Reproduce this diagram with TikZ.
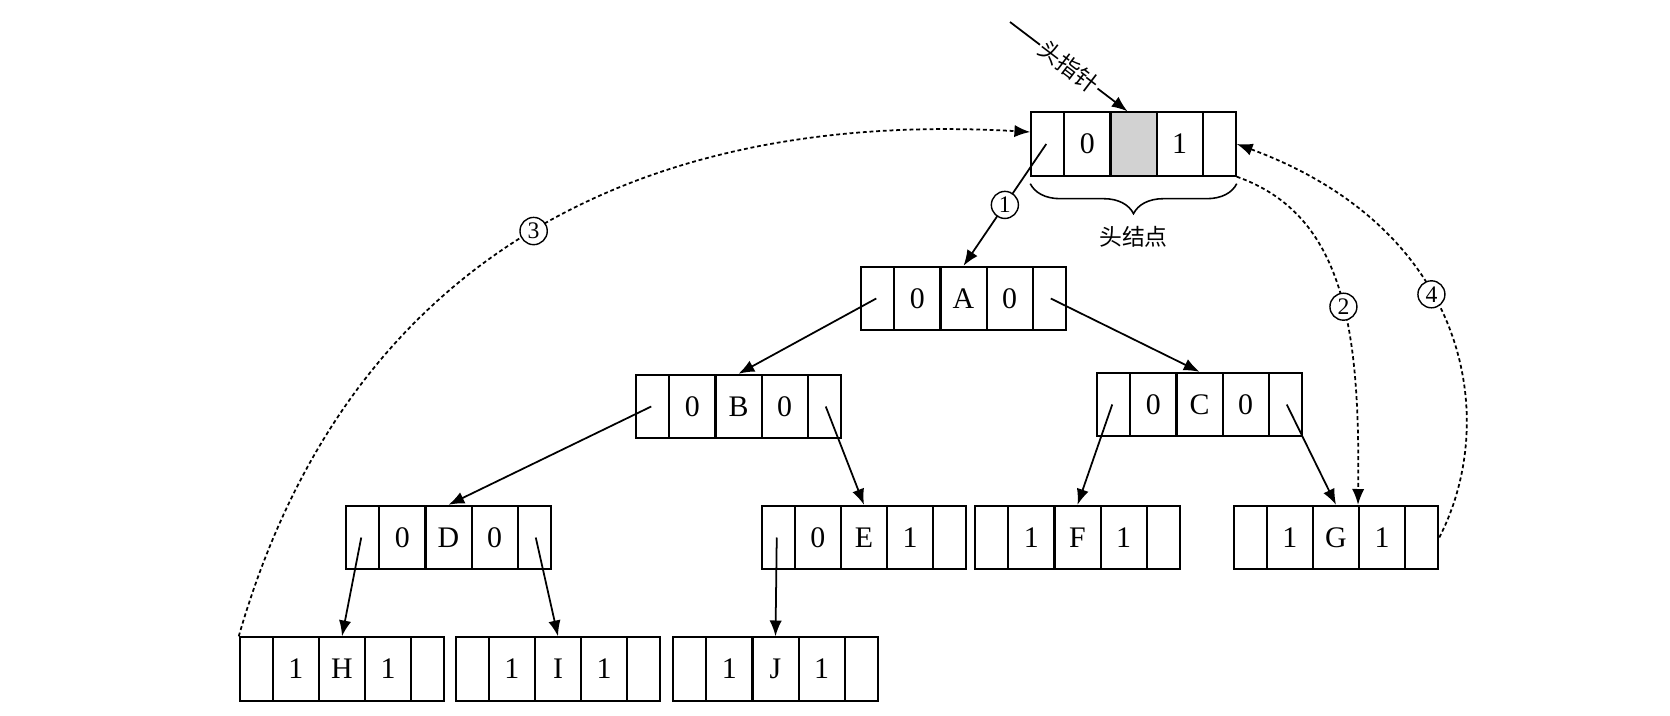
\documentclass[tikz,border=0pt]{standalone}
\usepackage{fontspec}
\setmainfont{Liberation Serif}
\newfontfamily\cjk{Noto Sans CJK SC}
\usetikzlibrary{shapes.multipart,arrows.meta,decorations.pathreplacing,calc}
\newcommand{\recflag}{\makebox[0.64cm]{\rule[-12.5pt]{0pt}{36pt}}}
\newcommand{\recfield}[1]{\makebox[0.88cm]{\rule[-12.5pt]{0pt}{36pt}#1}}

\begin{document}
\begin{tikzpicture}[x=0.02cm,y=-0.02cm,
		rec/.style={draw,line width=1.2pt,rectangle split,rectangle split horizontal,rectangle split parts=5,inner sep=0pt,font=\fontsize{17}{20}\selectfont},
		link/.style={-{Latex[length=9pt,width=7pt]},line width=1pt},
		thread/.style={link,dash pattern=on 2.2pt off 1.6pt},
		num/.style={solid,circle,draw,fill=white,line width=0.8pt,inner sep=1.5pt,font=\fontsize{13.5}{14}\selectfont},
		cjklabel/.style={font=\cjk\fontsize{13}{15}\selectfont}]
				\useasboundingbox (0,0) rectangle (1670,716);
				\node[rec,rectangle split part fill={white,white,gray!35,white,white}] (Hd) at (1133.5,144) {\recflag\nodepart{two}\recfield{0}\nodepart{three}\recfield{}\nodepart{four}\recfield{1}\nodepart{five}\recflag};
				\node[rec] (A) at (963.5,298.5) {\recflag\nodepart{two}\recfield{0}\nodepart{three}\recfield{A}\nodepart{four}\recfield{0}\nodepart{five}\recflag};
				\node[rec] (B) at (738.5,406.5) {\recflag\nodepart{two}\recfield{0}\nodepart{three}\recfield{B}\nodepart{four}\recfield{0}\nodepart{five}\recflag};
				\node[rec] (C) at (1199.5,404.5) {\recflag\nodepart{two}\recfield{0}\nodepart{three}\recfield{C}\nodepart{four}\recfield{0}\nodepart{five}\recflag};
				\node[rec] (D) at (448.5,537.5) {\recflag\nodepart{two}\recfield{0}\nodepart{three}\recfield{D}\nodepart{four}\recfield{0}\nodepart{five}\recflag};
				\node[rec] (E) at (864,537.5) {\recflag\nodepart{two}\recfield{0}\nodepart{three}\recfield{E}\nodepart{four}\recfield{1}\nodepart{five}\recflag};
				\node[rec] (F) at (1077.5,537.5) {\recflag\nodepart{two}\recfield{1}\nodepart{three}\recfield{F}\nodepart{four}\recfield{1}\nodepart{five}\recflag};
				\node[rec] (G) at (1336,537.5) {\recflag\nodepart{two}\recfield{1}\nodepart{three}\recfield{G}\nodepart{four}\recfield{1}\nodepart{five}\recflag};
				\node[rec] (H) at (342,669) {\recflag\nodepart{two}\recfield{1}\nodepart{three}\recfield{H}\nodepart{four}\recfield{1}\nodepart{five}\recflag};
				\node[rec] (I) at (558,669) {\recflag\nodepart{two}\recfield{1}\nodepart{three}\recfield{I}\nodepart{four}\recfield{1}\nodepart{five}\recflag};
				\node[rec] (J) at (775.5,669) {\recflag\nodepart{two}\recfield{1}\nodepart{three}\recfield{J}\nodepart{four}\recfield{1}\nodepart{five}\recflag};
				\coordinate (hp) at (1010,22);
				\draw[link] (hp) -- node[sloped,fill=white,inner sep=1pt,cjklabel]{头指针} ($(Hd.north)+(-6,0)$);
				\draw[line width=0.9pt,decorate,decoration={brace,mirror,amplitude=0.6cm}] ($(Hd.south west)+(0,7)$) -- ($(Hd.south east)+(0,7)$) node[midway,below=0.72cm,cjklabel]{头结点};
				\draw[link] ($(Hd.west)+(16,0)$) -- node[num]{1} (A.north);
				\draw[link] ($(A.west)+(16,0)$) -- (B.north);
				\draw[link] ($(A.east)+(-16,0)$) -- (C.north);
				\draw[link] ($(B.west)+(16,0)$) -- (D.north);
				\draw[link] ($(B.east)+(-16,0)$) -- (E.north);
				\draw[link] ($(C.west)+(16,0)$) -- (F.north);
				\draw[link] ($(C.east)+(-16,0)$) -- (G.north);
				\draw[link] ($(D.west)+(16,0)$) -- (H.north);
				\draw[link] ($(D.east)+(-16,0)$) -- (I.north);
				\draw[link] ($(E.west)+(16,0)$) -- (J.north);
				\draw[thread] (H.north west) .. controls (350,250) and (650,110) .. node[num]{3} ($(Hd.west)+(0,-12)$);
				\draw[thread] (Hd.south east) .. controls (1345,215) and (1360,330) .. node[num,pos=0.55]{2} ($(G.north)+(22,0)$);
				\draw[thread] (G.east) .. controls (1500,420) and (1470,230) .. node[num,pos=0.58]{4} (Hd.east);
			\end{tikzpicture}
\end{document}
